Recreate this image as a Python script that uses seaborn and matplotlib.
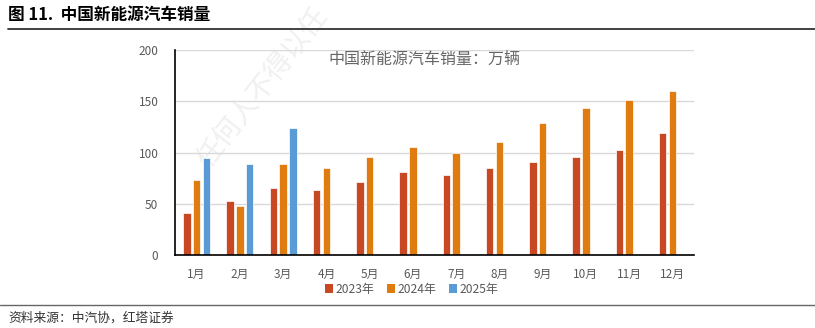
import matplotlib
matplotlib.use("Agg")
import matplotlib.pyplot as plt
from matplotlib.lines import Line2D
from matplotlib.patches import Patch
import seaborn as sns
import pandas as pd
import numpy as np

# Monthly NEV sales in China (10k units)
months = ["1月", "2月", "3月", "4月", "5月", "6月", "7月", "8月", "9月", "10月", "11月", "12月"]
sales_2023 = [40.8, 52.5, 65.3, 63.6, 71.7, 80.6, 78.0, 84.6, 90.4, 95.6, 102.6, 119.1]
sales_2024 = [72.9, 47.7, 88.3, 85.0, 95.5, 104.9, 99.1, 110.3, 128.7, 143.0, 151.2, 159.6]
sales_2025 = [94.4, 89.2, 123.7]
years = ["2023年", "2024年", "2025年"]
colors = ["#C84823", "#E07B10", "#5B9BD5"]

sns.set_theme(style="white")
plt.rcParams["font.family"] = ["Noto Sans CJK SC", "DejaVu Sans"]

pad = [np.nan] * (len(months) - len(sales_2025))
df = pd.DataFrame({
    "月份": months * 3,
    "年份": [years[0]] * 12 + [years[1]] * 12 + [years[2]] * 12,
    "销量": sales_2023 + sales_2024 + list(sales_2025) + pad,
})

fig = plt.figure(figsize=(8.15, 3.28), dpi=100)
ax = fig.add_axes([175 / 815, 73 / 328, 519 / 815, 205 / 328])
ax.patch.set_alpha(0)

sns.barplot(data=df, x="月份", y="销量", hue="年份", order=months,
            hue_order=years, palette=colors, width=0.672, gap=0.23,
            edgecolor="white", linewidth=0.5, saturation=1,
            legend=False, ax=ax)

ax.set_ylim(0, 200)
ax.set_xlim(-0.5, 11.5)
ax.set_yticks([0, 50, 100, 150, 200])
ax.yaxis.grid(True, color="#D9D9D9", linewidth=1)
ax.set_axisbelow(True)
ax.set_xlabel("")
ax.set_ylabel("")
for s in ["top", "right"]:
    ax.spines[s].set_visible(False)
for s in ["left", "bottom"]:
    ax.spines[s].set_color("black")
    ax.spines[s].set_linewidth(1.2)
ax.tick_params(axis="both", length=0, labelsize=8.5, labelcolor="#595959")
ax.tick_params(axis="y", pad=12)
ax.tick_params(axis="x", pad=9)

ax.text(0.295, 0.955, "中国新能源汽车销量：万辆", transform=ax.transAxes,
        fontsize=11.5, color="#666666", ha="left", va="center",
        fontweight="light")

# Faint diagonal watermark behind the plot
fig.text(0.235, 0.47, "任何人不得以任", rotation=52, fontsize=20,
         color="#F0F0F0", ha="left", va="bottom", zorder=-1)

handles = [Patch(facecolor=c, edgecolor="none") for c in colors]
fig.legend(handles, years, loc="center", bbox_to_anchor=(0.505, 1 - 289 / 328),
           ncol=3, frameon=False, fontsize=8.7, handlelength=0.7,
           handleheight=0.7, handletextpad=0.2, columnspacing=1.0,
           labelcolor="#595959")

# Header and footer
fig.text(8 / 815, 1 - 15 / 328, "图 11.  中国新能源汽车销量", fontsize=12,
         fontweight="bold", color="black", ha="left", va="center")
fig.add_artist(Line2D([8 / 815, 1.0], [1 - 29 / 328] * 2, color="#333333",
                      linewidth=1.3, transform=fig.transFigure))
fig.add_artist(Line2D([0.0, 1.0], [1 - 305 / 328] * 2, color="#666666",
                      linewidth=1.0, transform=fig.transFigure))
fig.text(8 / 815, 1 - 318 / 328, "资料来源：中汽协，红塔证券", fontsize=9.2,
         color="#333333", ha="left", va="center")

fig.savefig("out.png", dpi=100)
